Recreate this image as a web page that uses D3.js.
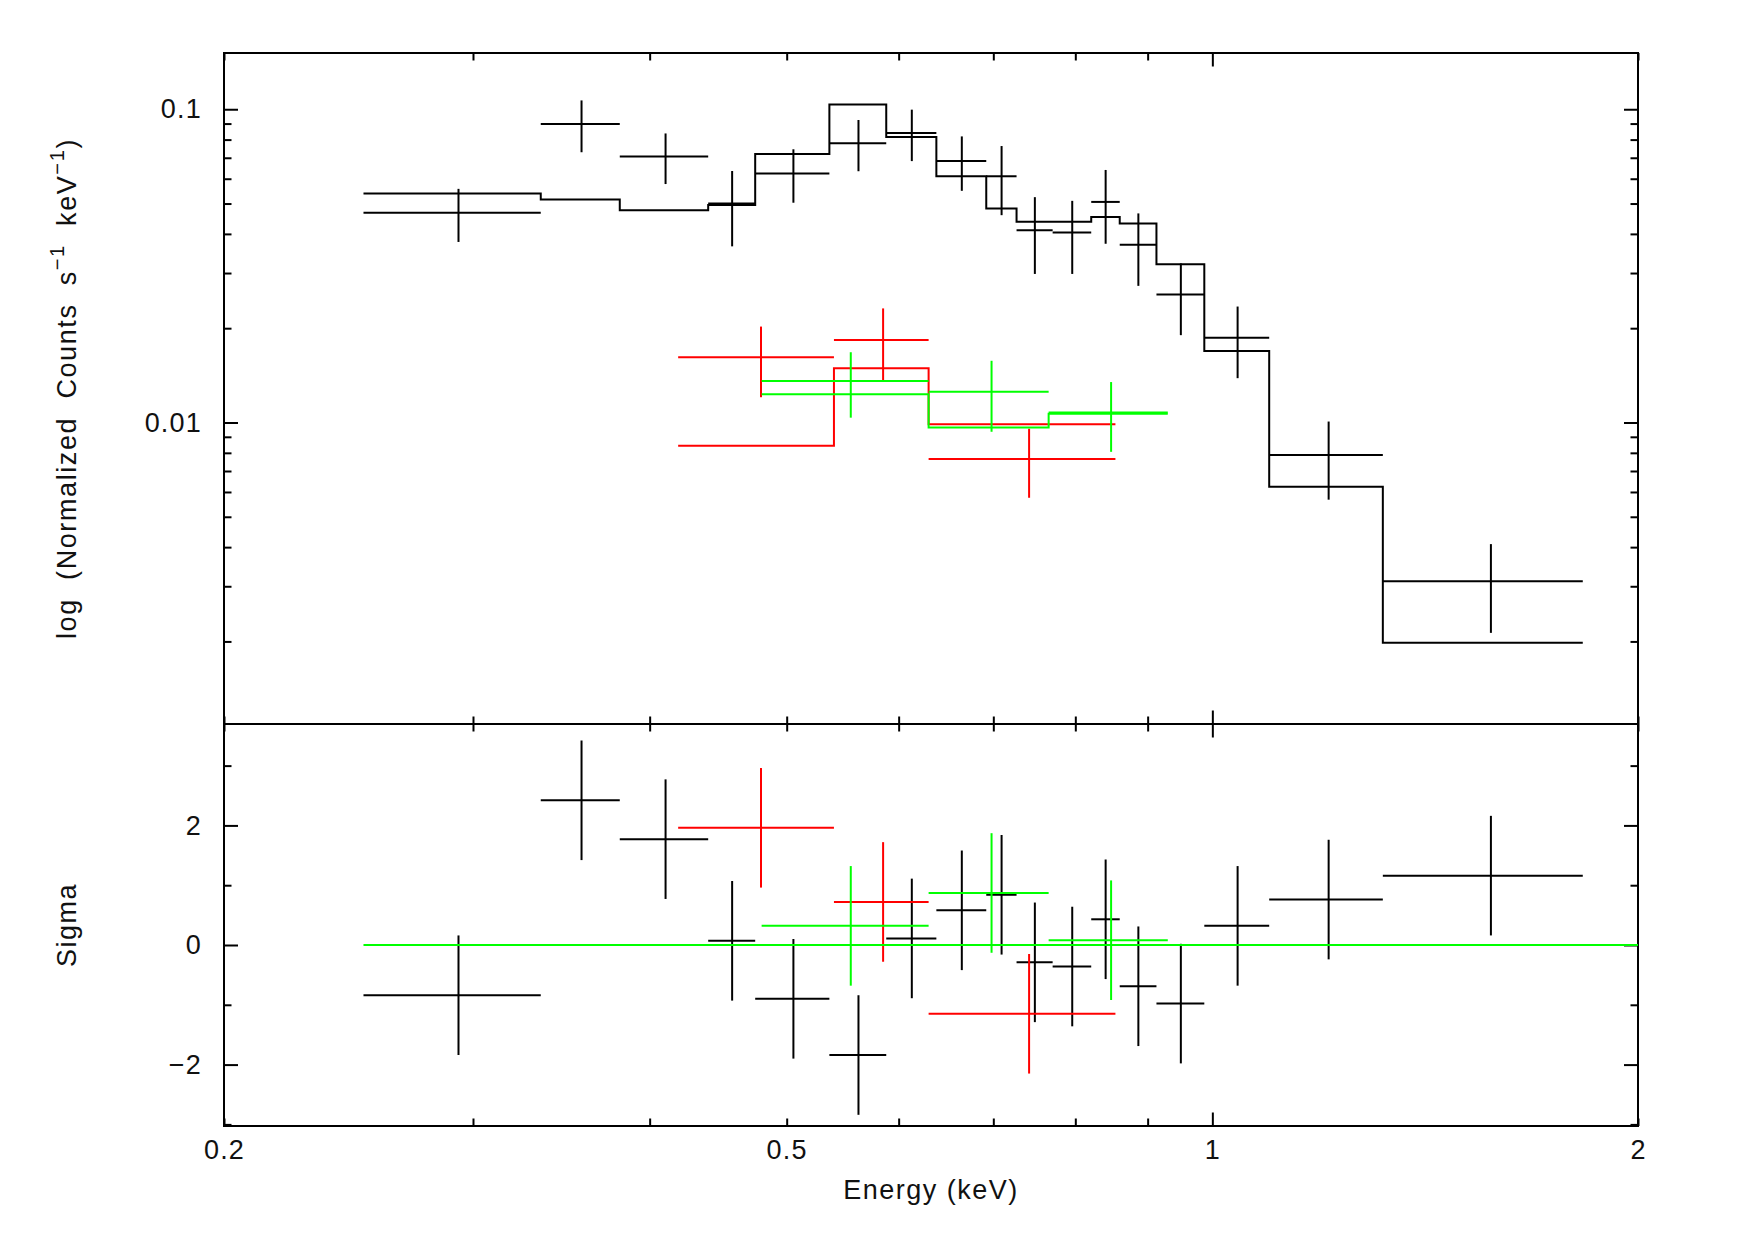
<!DOCTYPE html>
<html>
<head>
<meta charset="utf-8">
<script src="https://cdn.jsdelivr.net/npm/d3@7/dist/d3.min.js"></script>
<style>
  body { margin: 0; background: #fff; }
</style>
</head>
<body>
<div id="spectrum"></div>
<script>
// --- data (energy bins in keV) ---
const blackLo = [0.251, 0.335, 0.381, 0.440, 0.475, 0.536, 0.588, 0.638, 0.692, 0.727, 0.771, 0.821, 0.860, 0.913, 0.987, 1.097, 1.320];
const blackHi = [0.335, 0.381, 0.440, 0.475, 0.536, 0.588, 0.638, 0.692, 0.727, 0.771, 0.821, 0.860, 0.913, 0.987, 1.097, 1.320, 1.828];
const blackRate = [0.0467, 0.0898, 0.0707, 0.0500, 0.0624, 0.0779, 0.0840, 0.0684, 0.0611, 0.0411, 0.0404, 0.0506, 0.0369, 0.0256, 0.01865, 0.00787, 0.00311];
const blackErr = [0.0090, 0.0169, 0.0130, 0.0135, 0.0121, 0.0145, 0.0157, 0.0135, 0.0152, 0.0113, 0.0106, 0.0134, 0.0096, 0.0066, 0.0048, 0.0022, 0.00098];
const blackModel = [0.0538, 0.0515, 0.0476, 0.0495, 0.0719, 0.1035, 0.0816, 0.0611, 0.0482, 0.0437, 0.0437, 0.0453, 0.0432, 0.0320, 0.0169, 0.00624, 0.00198];
const blackSigma = [-0.84, 2.42, 1.77, 0.07, -0.90, -1.84, 0.11, 0.58, 0.84, -0.29, -0.36, 0.43, -0.69, -0.98, 0.32, 0.76, 1.16];

const redLo = [0.419, 0.540, 0.630];
const redHi = [0.540, 0.630, 0.854];
const redRate = [0.01614, 0.01833, 0.00765];
const redErr = [0.0041, 0.0048, 0.0019];
const redModel = [0.00843, 0.01489, 0.00987];
const redSigma = [1.96, 0.72, -1.15];

const greenLo = [0.480, 0.630, 0.766];
const greenHi = [0.630, 0.766, 0.930];
const greenRate = [0.01356, 0.01254, 0.01076];
const greenErr = [0.0032, 0.0032, 0.0027];
const greenModel = [0.0123, 0.00963, 0.01066];
const greenSigma = [0.32, 0.87, 0.08];

const xTickLabels = [0.2, 0.5, 1, 2];
const yTickLabels = [0.01, 0.1];
const sigmaTicks = [-3, -2, -1, 0, 1, 2, 3];
const sigmaTickLabels = [-2, 0, 2];

// --- layout ---
const svgWidth = 1755;
const svgHeight = 1240;
const margin = { top: 53, right: 117, bottom: 114, left: 224 };
const plotRight = svgWidth - margin.right;
const plotBottom = svgHeight - margin.bottom;
const split = 724;
const fontFamily = '"Liberation Sans", Arial, sans-serif';

const svg = d3.select('#spectrum').append('svg')
  .attr('width', svgWidth)
  .attr('height', svgHeight);

const x = d3.scaleLog().domain([0.2, 2]).range([margin.left, plotRight]);
const y = d3.scaleLog().domain([0.00109, 0.1512]).range([split, margin.top]);
const ys = d3.scaleLinear().domain([-3.027, 3.696]).range([plotBottom, split]);

const groups = [
  { color: '#000000', lo: blackLo, hi: blackHi, rate: blackRate, err: blackErr, model: blackModel, sigma: blackSigma },
  { color: '#ff0000', lo: redLo, hi: redHi, rate: redRate, err: redErr, model: redModel, sigma: redSigma },
  { color: '#00ff00', lo: greenLo, hi: greenHi, rate: greenRate, err: greenErr, model: greenModel, sigma: greenSigma }
];

// frames
svg.append('rect')
  .attr('x', margin.left).attr('y', margin.top)
  .attr('width', plotRight - margin.left).attr('height', plotBottom - margin.top)
  .attr('fill', 'none').attr('stroke', '#000').attr('stroke-width', 2);
svg.append('line')
  .attr('x1', margin.left).attr('x2', plotRight)
  .attr('y1', split).attr('y2', split)
  .attr('stroke', '#000').attr('stroke-width', 2);

// ticks
const isDecade = v => Math.abs(Math.log10(v) - Math.round(Math.log10(v))) < 1e-6;
const xMinor = x.ticks().filter(v => !isDecade(v));
const xMajor = x.ticks().filter(isDecade);
const yMinor = y.ticks().filter(v => !isDecade(v));
const yMajor = y.ticks().filter(isDecade);
const sMinor = sigmaTicks.filter(v => v % 2 !== 0);
const sMajor = sigmaTicks.filter(v => v % 2 === 0);

function drawTicks(axis, values, size, tx, ty) {
  const g = svg.append('g')
    .attr('transform', 'translate(' + tx + ',' + ty + ')')
    .call(axis.tickValues(values).tickSize(size).tickFormat(''));
  g.select('.domain').remove();
  g.selectAll('line').attr('stroke', '#000').attr('stroke-width', 2);
}

[[xMinor, 7.5], [xMajor, 13.5]].forEach(([vals, len]) => {
  drawTicks(d3.axisBottom(x), vals, len, 0, margin.top);
  drawTicks(d3.axisTop(x), vals, len, 0, split);
  drawTicks(d3.axisBottom(x), vals, len, 0, split);
  drawTicks(d3.axisTop(x), vals, len, 0, plotBottom);
});
[[yMinor, -7.5], [yMajor, -14]].forEach(([vals, len]) => {
  drawTicks(d3.axisLeft(y), vals, len, margin.left, 0);
  drawTicks(d3.axisRight(y), vals, len, plotRight, 0);
});
[[sMinor, -7.5], [sMajor, -14]].forEach(([vals, len]) => {
  drawTicks(d3.axisLeft(ys), vals, len, margin.left, 0);
  drawTicks(d3.axisRight(ys), vals, len, plotRight, 0);
});

// tick labels
function drawLabels(axis, values, fmt, pad, tx, ty) {
  const g = svg.append('g')
    .attr('transform', 'translate(' + tx + ',' + ty + ')')
    .call(axis.tickValues(values).tickSize(0).tickPadding(pad).tickFormat(fmt));
  g.select('.domain').remove();
  g.attr('font-family', fontFamily).attr('font-size', 27);
  g.selectAll('text').attr('fill', '#111').attr('letter-spacing', 1.2);
}
drawLabels(d3.axisBottom(x), xTickLabels, d => String(d), 14, 0, plotBottom);
drawLabels(d3.axisLeft(y), yTickLabels, d => String(d), 22, margin.left, 0);
drawLabels(d3.axisLeft(ys), sigmaTickLabels, d => d < 0 ? '\u2212' + Math.abs(d) : String(d), 22, margin.left, 0);

// axis titles
svg.append('text')
  .attr('x', (margin.left + plotRight) / 2).attr('y', 1199)
  .attr('text-anchor', 'middle').attr('fill', '#111')
  .attr('font-family', fontFamily).attr('font-size', 27).attr('letter-spacing', 1.5)
  .text('Energy (keV)');

const yTitle = svg.append('text')
  .attr('transform', 'translate(76,' + ((margin.top + split) / 2) + ') rotate(-90)')
  .attr('text-anchor', 'middle').attr('fill', '#111')
  .style('white-space', 'pre')
  .attr('font-family', fontFamily).attr('font-size', 27).attr('letter-spacing', 1.6);
yTitle.append('tspan').text('log  (Normalized  Counts  s');
yTitle.append('tspan').attr('dy', -12).attr('font-size', 20).text('\u22121');
yTitle.append('tspan').attr('dy', 12).text('  keV');
yTitle.append('tspan').attr('dy', -12).attr('font-size', 20).text('\u22121');
yTitle.append('tspan').attr('dy', 12).text(')');

svg.append('text')
  .attr('transform', 'translate(76,' + ((split + plotBottom) / 2) + ') rotate(-90)')
  .attr('text-anchor', 'middle').attr('fill', '#111')
  .attr('font-family', fontFamily).attr('font-size', 27).attr('letter-spacing', 1.5)
  .text('Sigma');

// spectra
const stepLine = d3.line()
  .x(d => x(d[0]))
  .y(d => d[1])
  .curve(d3.curveStepAfter);

groups.forEach(gr => {
  const n = gr.lo.length;
  const mid = gr.lo.map((lo, i) => (lo + gr.hi[i]) / 2);
  const g = svg.append('g')
    .attr('stroke', gr.color).attr('stroke-width', 2).attr('fill', 'none');

  // data crosses (top panel)
  g.selectAll('.xbar').data(d3.range(n)).join('line')
    .attr('x1', i => x(gr.lo[i])).attr('x2', i => x(gr.hi[i]))
    .attr('y1', i => y(gr.rate[i])).attr('y2', i => y(gr.rate[i]));
  g.selectAll('.ybar').data(d3.range(n)).join('line')
    .attr('x1', i => x(mid[i])).attr('x2', i => x(mid[i]))
    .attr('y1', i => y(gr.rate[i] - gr.err[i])).attr('y2', i => y(gr.rate[i] + gr.err[i]));

  // model histogram
  const pts = gr.lo.map((lo, i) => [lo, y(gr.model[i])]);
  pts.push([gr.hi[n - 1], y(gr.model[n - 1])]);
  g.append('path').attr('d', stepLine(pts));

  // residual crosses (bottom panel)
  const r = svg.append('g')
    .attr('stroke', gr.color).attr('stroke-width', 2).attr('fill', 'none');
  r.selectAll('.rx').data(d3.range(n)).join('line')
    .attr('x1', i => x(gr.lo[i])).attr('x2', i => x(gr.hi[i]))
    .attr('y1', i => ys(gr.sigma[i])).attr('y2', i => ys(gr.sigma[i]));
  r.selectAll('.ry').data(d3.range(n)).join('line')
    .attr('x1', i => x(mid[i])).attr('x2', i => x(mid[i]))
    .attr('y1', i => ys(gr.sigma[i] - 1)).attr('y2', i => ys(gr.sigma[i] + 1));
});

// zero line of the residuals
svg.append('line')
  .attr('x1', x(d3.min(blackLo))).attr('x2', x(2))
  .attr('y1', ys(0)).attr('y2', ys(0))
  .attr('stroke', '#00ff00').attr('stroke-width', 2);
</script>
</body>
</html>
